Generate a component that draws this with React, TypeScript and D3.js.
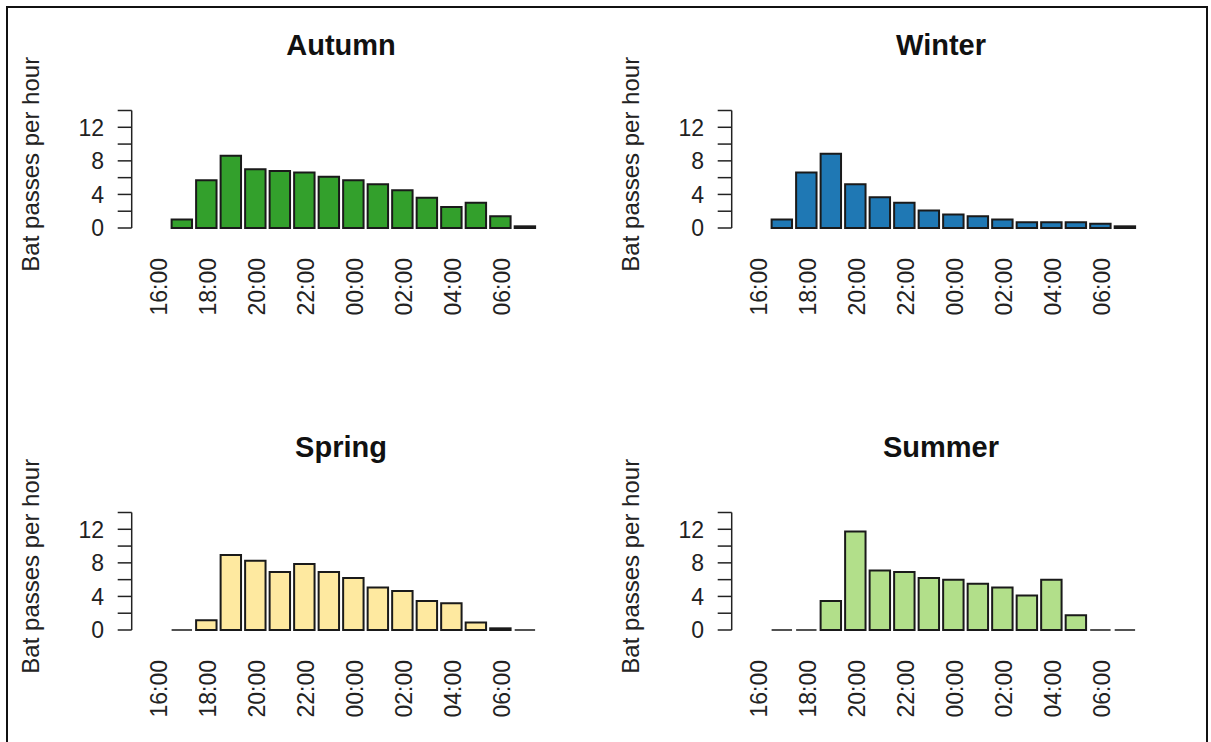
import React from "react";
import * as d3 from "d3";

const allHours = ["16:00","17:00","18:00","19:00","20:00","21:00","22:00","23:00","00:00","01:00","02:00","03:00","04:00","05:00","06:00","07:00"];
const barHours = ["17:00","18:00","19:00","20:00","21:00","22:00","23:00","00:00","01:00","02:00","03:00","04:00","05:00","06:00","07:00"];
const tickLabels = ["16:00","18:00","20:00","22:00","00:00","02:00","04:00","06:00"];
const yTicks = [0, 2, 4, 6, 8, 10, 12, 14];
const yLabels = [0, 4, 8, 12];

const autumn = [1.0, 5.7, 8.6, 7.0, 6.8, 6.6, 6.1, 5.7, 5.2, 4.5, 3.6, 2.5, 3.0, 1.4, 0.2];
const winter = [1.0, 6.6, 8.85, 5.2, 3.65, 3.0, 2.1, 1.6, 1.4, 1.0, 0.7, 0.7, 0.7, 0.5, 0.2];
const spring = [0, 1.15, 8.95, 8.25, 6.9, 7.85, 6.9, 6.2, 5.05, 4.65, 3.45, 3.2, 0.9, 0.2, 0];
const summer = [0, 0, 3.45, 11.75, 7.1, 6.9, 6.2, 6.0, 5.5, 5.05, 4.1, 6.0, 1.75, 0, 0];

const seasons = ["Autumn", "Winter", "Spring", "Summer"];
const seasonValues = [autumn, winter, spring, summer];
const seasonColors = ["#33a02c", "#1f78b4", "#fee9a0", "#b2df8a"];

const FONT = "'Liberation Sans', Arial, Helvetica, sans-serif";

function Panel({ title, values, color, dx, dy }: { title: string; values: number[]; color: string; dx: number; dy: number }) {
  const x = d3.scaleBand<string>().domain(allHours).range([147.1, 535.1]).paddingInner(0.2 / 1.2).paddingOuter(0);
  const y = d3.scaleLinear().domain([0, 14]).range([228, 110.5]);
  const axisX = 131.7;
  return (
    <g transform={`translate(${dx},${dy})`}>
      <text x={341} y={55} textAnchor="middle" fontFamily={FONT} fontWeight="bold" fontSize={29} fill="#111">{title}</text>
      <text transform={`translate(39,${(y(0) + y(14)) / 2 - 5}) rotate(-90)`} textAnchor="middle" fontFamily={FONT} fontSize={24} fill="#222">Bat passes per hour</text>
      <line x1={axisX} x2={axisX} y1={y(0)} y2={y(14)} stroke="#222" strokeWidth={1.5} />
      {yTicks.map((t) => (
        <line key={t} x1={axisX - 14} x2={axisX} y1={y(t)} y2={y(t)} stroke="#222" strokeWidth={1.5} />
      ))}
      {yLabels.map((t) => (
        <text key={t} x={104} y={y(t)} dy="0.36em" textAnchor="end" fontFamily={FONT} fontSize={23} fill="#222">{t}</text>
      ))}
      {values.map((v, i) => {
        const bx = x(barHours[i])!;
        const w = x.bandwidth();
        const y0 = y(0);
        const y1 = y(v);
        const d = `M${bx},${y0}V${y1}H${bx + w}V${y0}Z`;
        return <path key={i} d={d} fill={color} stroke="#1a1a1a" strokeWidth={v === 0 ? 1.5 : 2} />;
      })}
      {tickLabels.map((lab) => {
        const cx = x(lab)! + x.bandwidth() / 2;
        return (
          <text key={lab} transform={`translate(${cx + 1},${y(0) + 30}) rotate(-90)`} dy="0.36em" textAnchor="end" fontFamily={FONT} fontSize={23} fill="#222">{lab}</text>
        );
      })}
    </g>
  );
}

export default function App() {
  const offsets = [[0, 0], [600, 0], [0, 402], [600, 402]];
  return (
    <svg width={1211} height={742} style={{ position: "absolute", left: 0, top: 0, background: "#fff" }}>
      <rect x={0} y={0} width={1211} height={742} fill="#fff" />
      <path d="M7,760V7H1207V760" fill="none" stroke="#111" strokeWidth={2} />
      {seasons.map((s, i) => (
        <Panel key={s} title={s} values={seasonValues[i]} color={seasonColors[i]} dx={offsets[i][0]} dy={offsets[i][1]} />
      ))}
    </svg>
  );
}
